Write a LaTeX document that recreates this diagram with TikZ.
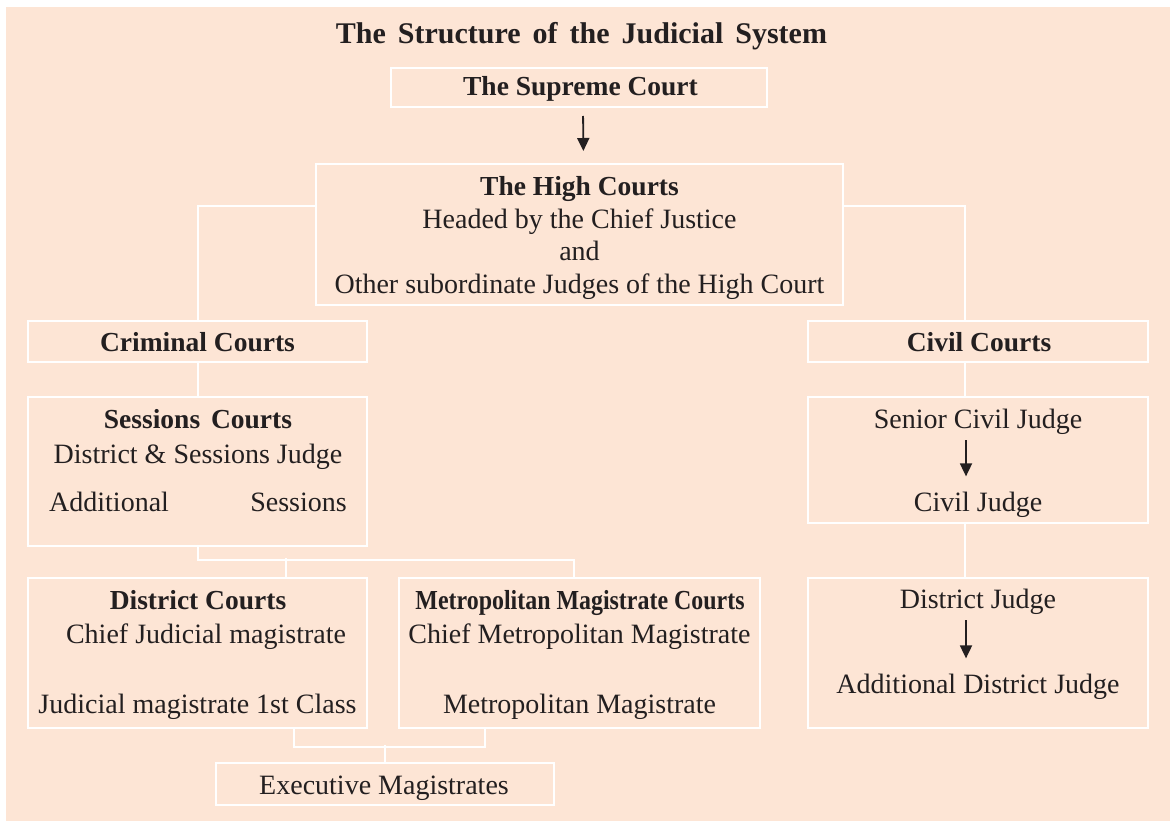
\documentclass[tikz,border=0pt]{standalone}
\usepackage{fontspec}
\setmainfont{Liberation Serif}
\usetikzlibrary{arrows.meta}
\definecolor{bgpeach}{RGB}{253,229,213}
\definecolor{ink}{RGB}{35,31,32}
\newcommand\rg{\fontsize{28}{33}\selectfont}
\newcommand\bd{\fontsize{27.5}{33}\selectfont\bfseries}
\begin{document}
\begin{tikzpicture}[x=1pt,y=-1pt,
  box/.style={draw=white, line width=2pt, inner sep=0pt, rectangle},
  conn/.style={draw=white, line width=2pt},
  arr/.style={draw=ink, line width=1.8pt, -{Triangle[width=12pt,length=13pt]}},
  txt/.style={anchor=base, inner sep=0pt, text=ink, font=\rg},
  btxt/.style={anchor=base, inner sep=0pt, text=ink, font=\bd}]
\useasboundingbox (0,0) rectangle (1170,821);
\fill[bgpeach] (6,7) rectangle (1170,821);
% boxes
\node[box, minimum width=376pt, minimum height=39pt] (sup) at (579,87.5) {};
\node[box, minimum width=527pt, minimum height=141pt] (high) at (579.5,234.5) {};
\node[box, minimum width=339pt, minimum height=41pt] (crim) at (197.5,341.5) {};
\node[box, minimum width=340pt, minimum height=41pt] (civ) at (978,341.5) {};
\node[box, minimum width=339pt, minimum height=149pt] (sess) at (197.5,471.5) {};
\node[box, minimum width=340pt, minimum height=126pt] (scj) at (978,460) {};
\node[box, minimum width=339pt, minimum height=150pt] (dist) at (197.5,653) {};
\node[box, minimum width=361pt, minimum height=150pt] (metro) at (579.5,653) {};
\node[box, minimum width=340pt, minimum height=150pt] (dj) at (978,653) {};
\node[box, minimum width=338pt, minimum height=42pt] (exec) at (385,784) {};
% texts
\node[anchor=base, inner sep=0pt, text=ink, font=\fontsize{30}{36}\selectfont\bfseries] (title) at (581.5,44) {\spaceskip=12pt The Structure of the Judicial System};
\node[btxt] (tsup) at (580.5,96) {The Supreme Court};
\node[btxt] (th1) at (579.5,196) {The High Courts};
\node[txt] (th2) at (579.5,229) {Headed by the Chief Justice};
\node[txt] (th3) at (579.5,261) {and};
\node[txt] (th4) at (579.5,293) {Other subordinate Judges of the High Court};
\node[btxt] (tcrim) at (197.5,351) {Criminal Courts};
\node[btxt] (tciv) at (979,351) {Civil Courts};
\node[btxt] (ts1) at (198,428) {Sessions\hspace{4pt} Courts};
\node[txt] (ts2) at (198,463) {District \& Sessions Judge};
\node[txt, anchor=base west] (ts3a) at (49,511) {Additional};
\node[txt, anchor=base east] (ts3b) at (347,511) {Sessions};
\node[btxt] (td1) at (198,609) {District Courts};
\node[txt] (td2) at (206,643) {Chief Judicial magistrate};
\node[txt] (td3) at (197.5,713) {Judicial magistrate 1st Class};
\node[btxt] (tm1) at (580,609) {\scalebox{0.87}[1]{Metropolitan Magistrate Courts}};
\node[txt] (tm2) at (579.5,643) {Chief Metropolitan Magistrate};
\node[txt] (tm3) at (579.5,713) {Metropolitan Magistrate};
\node[txt] (tscj) at (978,428) {Senior Civil Judge};
\node[txt] (tcj) at (978,511) {Civil Judge};
\node[txt] (tdj) at (978,608) {District Judge};
\node[txt] (tadj) at (978,693) {Additional District Judge};
\node[txt] (texec) at (384,794) {Executive Magistrates};
% connector coordinates
\coordinate (cvx) at (965,0);
\coordinate (arx) at (966,0);
% connectors
\draw[conn] ([yshift=28.5pt]high.west) -| (crim.north);
\draw[conn] ([yshift=28.5pt]high.east) -| (civ.north -| cvx);
\draw[conn] (crim.south) -- (sess.north);
\draw[conn] (civ.south -| cvx) -- (scj.north -| cvx);
\draw[conn] (scj.south -| cvx) -- (dj.north -| cvx);
\draw[conn] (sess.south) -- ++(0,13) -| ([xshift=-5.5pt]metro.north);
\draw[conn] ([xshift=88.5pt]dist.north) -- ++(0,-19);
\draw[conn] ([xshift=96pt]dist.south) -- ++(0,18) -| ([xshift=-94.5pt]metro.south);
\draw[conn] (exec.north) -- ++(0,-17);
% arrows
\draw[arr, shorten <=8pt, shorten >=12pt] ([xshift=4pt]sup.south) -- ([xshift=4pt]high.north);
\draw[arr, shorten <=6pt, shorten >=15pt] (tscj.south -| arx) -- (tcj.north -| arx);
\draw[arr, shorten <=6pt, shorten >=15pt] (tdj.south -| arx) -- (tadj.north -| arx);
\end{tikzpicture}
\end{document}
